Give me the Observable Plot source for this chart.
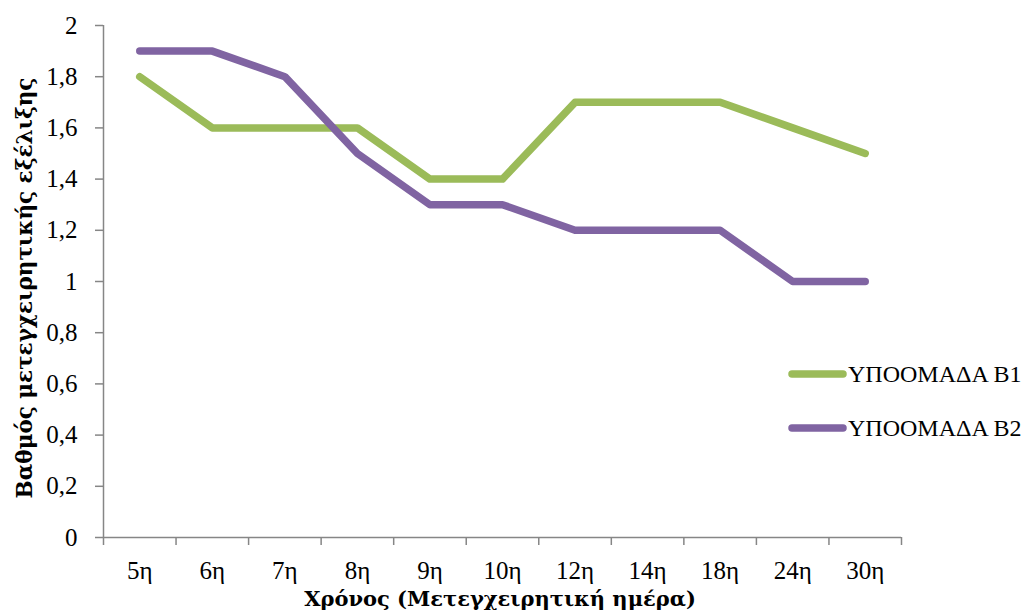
<!DOCTYPE html>
<html>
<head>
<meta charset="utf-8">
<script src="https://cdn.jsdelivr.net/npm/d3@7"></script>
<script src="https://cdn.jsdelivr.net/npm/@observablehq/plot@0.6"></script>
<style>
  html, body { margin: 0; padding: 0; background: #fff; }
</style>
</head>
<body>
<div id="chart"></div>
<script>
const categories = ["5η", "6η", "7η", "8η", "9η", "10η", "12η", "14η", "18η", "24η", "30η"];
const seriesB1 = [1.8, 1.6, 1.6, 1.6, 1.4, 1.4, 1.7, 1.7, 1.7, 1.6, 1.5];
const seriesB2 = [1.9, 1.9, 1.8, 1.5, 1.3, 1.3, 1.2, 1.2, 1.2, 1.0, 1.0];
const seriesNames = ["ΥΠΟΟΜΑΔΑ Β1", "ΥΠΟΟΜΑΔΑ Β2"];
const seriesColors = ["#9BBB59", "#8064A2"];
const yTicks = [0, 0.2, 0.4, 0.6, 0.8, 1, 1.2, 1.4, 1.6, 1.8, 2];
const xTitle = "Χρόνος (Μετεγχειρητική ημέρα)";
const yTitle = "Βαθμός μετεγχειρητικής εξέλιξης";

const idx = categories.map((_, i) => i);
const boundaries = d3.range(0, categories.length + 1).map(i => i - 0.5);
const rows = [
  ...seriesB1.map((v, i) => ({i, v, s: seriesNames[0]})),
  ...seriesB2.map((v, i) => ({i, v, s: seriesNames[1]}))
];
const fmt = d => String(+d.toFixed(1)).replace(".", ",");
const FONT = "'Liberation Serif', 'DejaVu Serif', serif";
const TITLE_FONT = "'DejaVu Serif', 'Liberation Serif', serif";
const AXIS = "#868686";

const W = 1028, H = 612;
const mL = 103, mR = 127, mT = 25, mB = 75;
const plotW = W - mL - mR, plotH = H - mT - mB;
const TICK = 8;
const xTickUnits = TICK / plotW * categories.length; // tick length in x units
const yTickUnits = TICK / plotH * 2;                 // tick length in y units

const plot = Plot.plot({
  width: W,
  height: H,
  marginLeft: mL,
  marginRight: mR,
  marginTop: mT,
  marginBottom: mB,
  style: {fontFamily: FONT, background: "#fff", overflow: "visible"},
  x: {type: "linear", domain: [-0.5, categories.length - 0.5], axis: null},
  y: {domain: [0, 2], axis: null},
  color: {domain: seriesNames, range: seriesColors},
  marks: [
    // axis lines
    Plot.ruleX([-0.5], {y1: 0, y2: 2, stroke: AXIS, strokeWidth: 1.5}),
    Plot.ruleY([0], {x1: -0.5, x2: categories.length - 0.5, stroke: AXIS, strokeWidth: 1.5}),
    // y ticks
    Plot.ruleY(yTicks, {y: d => d, x1: -0.5 - xTickUnits, x2: -0.5, stroke: AXIS, strokeWidth: 1.5}),
    Plot.text(yTicks, {x: -0.5, y: d => d, text: fmt, dx: -26, textAnchor: "end", fontSize: 25, fill: "#000"}),
    // x boundary ticks
    Plot.ruleX(boundaries, {x: d => d, y1: 0, y2: -yTickUnits, stroke: AXIS, strokeWidth: 1.5}),
    Plot.text(idx, {x: d => d, y: 0, text: d => categories[d], dy: 33, fontSize: 25, fill: "#000"}),
    // lines
    Plot.line(rows, {x: "i", y: "v", z: "s", stroke: "s", strokeWidth: 7.5, strokeLinecap: "round", strokeLinejoin: "round"})
  ]
});

const svg = d3.select(plot);
// axis titles
svg.append("text")
  .attr("x", mL + plotW / 2 - 2).attr("y", 606)
  .attr("text-anchor", "middle")
  .style("font-family", TITLE_FONT).style("font-weight", "bold").style("font-size", "21px")
  .attr("fill", "#000")
  .text(xTitle);
svg.append("text")
  .attr("transform", `translate(32, 288) rotate(-90)`)
  .attr("text-anchor", "middle")
  .style("font-family", TITLE_FONT).style("font-weight", "bold").style("font-size", "21.5px")
  .attr("fill", "#000")
  .text(yTitle);
// legend
const lg = svg.append("g").style("font-family", FONT).style("font-size", "24px");
seriesNames.forEach((name, k) => {
  const cy = 374 + k * 54;
  lg.append("line").attr("x1", 792).attr("x2", 843).attr("y1", cy).attr("y2", cy)
    .attr("stroke", seriesColors[k]).attr("stroke-width", 7.5).attr("stroke-linecap", "round");
  lg.append("text").attr("x", 848).attr("y", cy).attr("dy", "0.35em")
    .attr("text-anchor", "start").attr("fill", "#000").text(name);
});
document.getElementById("chart").appendChild(plot);
</script>
</body>
</html>
